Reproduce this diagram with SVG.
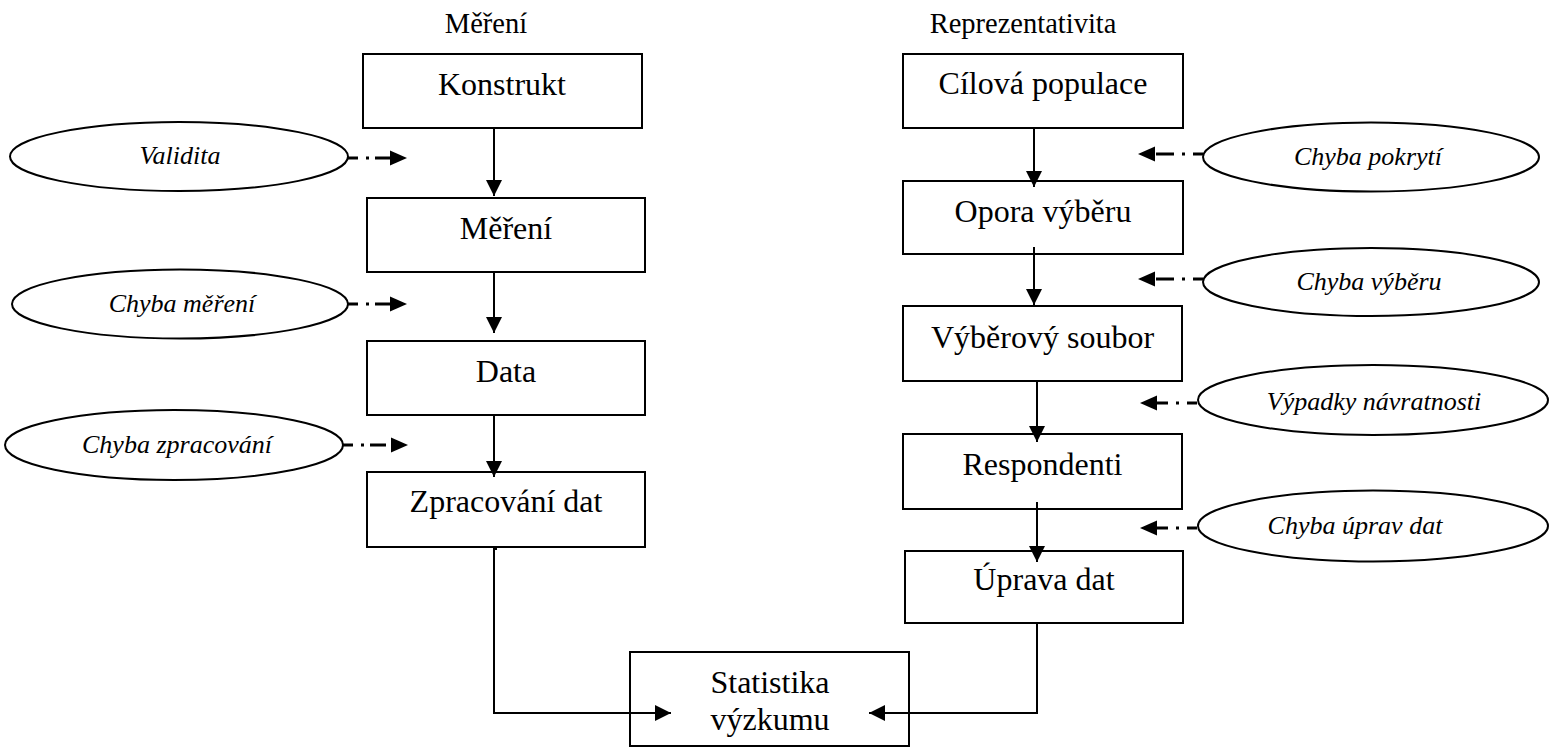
<svg xmlns="http://www.w3.org/2000/svg" width="1550" height="749" viewBox="0 0 1550 749">
<style>
.box{fill:#fff;stroke:#000;stroke-width:2}
.ell{fill:#fff;stroke:#000;stroke-width:2}
.t{font-family:"Liberation Serif","Times New Roman",serif;font-size:32px;text-anchor:middle;fill:#000}
.h{font-family:"Liberation Serif","Times New Roman",serif;font-size:28.5px;text-anchor:middle;fill:#000}
.e{font-family:"Liberation Serif","Times New Roman",serif;font-size:26px;font-style:italic;text-anchor:middle;fill:#000}
.c{fill:none;stroke:#000;stroke-width:2}
.dl{fill:none;stroke:#000;stroke-width:3;stroke-dasharray:10 8 3 6 16 60}
.dr{fill:none;stroke:#000;stroke-width:3;stroke-dasharray:10 8 3 8 18 60}
</style>
<defs>
<marker id="a" markerUnits="userSpaceOnUse" markerWidth="16" markerHeight="17" refX="16" refY="8.5" orient="auto" viewBox="0 0 16 17">
<path d="M0,0.5 L16,8.5 L0,16.5 z" fill="#000"/>
</marker>
<marker id="ad" markerUnits="userSpaceOnUse" markerWidth="17" markerHeight="16" refX="17" refY="8" orient="auto" viewBox="0 0 17 16">
<path d="M0,0.5 L17,8 L0,15.5 z" fill="#000"/>
</marker>
</defs>
<g id="headers">
<text class="h" x="486" y="33">Měření</text>
<text class="h" x="1023" y="33">Reprezentativita</text>
</g>
<g id="konstrukt"><rect class="box" x="363" y="54" width="279" height="74"/><text class="t" x="502" y="95">Konstrukt</text></g>
<g id="mereni"><rect class="box" x="367" y="198" width="278" height="74"/><text class="t" x="506" y="239">Měření</text></g>
<g id="data"><rect class="box" x="367" y="341" width="278" height="74"/><text class="t" x="506" y="382">Data</text></g>
<g id="zpracovani"><rect class="box" x="367" y="472" width="278" height="75"/><text class="t" x="506" y="512">Zpracování dat</text></g>
<g id="cilova"><rect class="box" x="903" y="54" width="280" height="74"/><text class="t" x="1043" y="94">Cílová populace</text></g>
<g id="opora"><rect class="box" x="903" y="181" width="280" height="73"/><text class="t" x="1043" y="222">Opora výběru</text></g>
<g id="vyberovy"><rect class="box" x="903" y="306" width="279" height="75"/><text class="t" x="1042.5" y="348">Výběrový soubor</text></g>
<g id="respondenti"><rect class="box" x="903" y="434" width="279" height="75"/><text class="t" x="1042.5" y="475">Respondenti</text></g>
<g id="uprava"><rect class="box" x="905" y="551" width="278" height="72"/><text class="t" x="1044" y="590">Úprava dat</text></g>
<g id="statistika"><rect class="box" x="630" y="652" width="279" height="94"/><text class="t" x="770" y="693">Statistika</text><text class="t" x="770" y="730">výzkumu</text></g>
<g id="validita"><ellipse class="ell" cx="179" cy="156.5" rx="169" ry="34.5"/><text class="e" x="180" y="164">Validita</text></g>
<g id="chyba-mereni"><ellipse class="ell" cx="180" cy="304" rx="168" ry="34.5"/><text class="e" x="182" y="312">Chyba měření</text></g>
<g id="chyba-zpracovani"><ellipse class="ell" cx="174" cy="445" rx="169" ry="35"/><text class="e" x="177" y="453">Chyba zpracování</text></g>
<g id="chyba-pokryti"><ellipse class="ell" cx="1371" cy="157" rx="168" ry="34.5"/><text class="e" x="1368" y="165">Chyba pokrytí</text></g>
<g id="chyba-vyberu"><ellipse class="ell" cx="1371" cy="282" rx="168" ry="34"/><text class="e" x="1369" y="290">Chyba výběru</text></g>
<g id="vypadky"><ellipse class="ell" cx="1373" cy="400" rx="175" ry="35"/><text class="e" x="1374" y="410">Výpadky návratnosti</text></g>
<g id="chyba-uprav"><ellipse class="ell" cx="1373" cy="526" rx="175" ry="35.5"/><text class="e" x="1355" y="534">Chyba úprav dat</text></g>
<g id="connectors">
<line class="c" x1="494" y1="128" x2="494" y2="196" marker-end="url(#a)"/>
<line class="c" x1="494" y1="272" x2="494" y2="333" marker-end="url(#a)"/>
<line class="c" x1="494" y1="415" x2="494" y2="477" marker-end="url(#a)"/>
<line class="c" x1="1034" y1="128" x2="1034" y2="187" marker-end="url(#a)"/>
<line class="c" x1="1034" y1="247" x2="1034" y2="305" marker-end="url(#a)"/>
<line class="c" x1="1037" y1="381" x2="1037" y2="442" marker-end="url(#a)"/>
<line class="c" x1="1037" y1="502" x2="1037" y2="562" marker-end="url(#a)"/>
<path class="c" d="M497,549 H494 V713 H671" marker-end="url(#a)"/>
<path class="c" d="M1068,623 H1037 V713 H869" marker-end="url(#a)"/>
<line class="dl" x1="348" y1="158" x2="407" y2="158" marker-end="url(#ad)"/>
<line class="dl" x1="348" y1="304" x2="407" y2="304" marker-end="url(#ad)"/>
<line class="dl" x1="343" y1="445" x2="408" y2="445" marker-end="url(#ad)"/>
<line class="dr" x1="1203" y1="154" x2="1138" y2="154" marker-end="url(#ad)"/>
<line class="dr" x1="1203" y1="279" x2="1138" y2="279" marker-end="url(#ad)"/>
<line class="dr" x1="1197" y1="403" x2="1140" y2="403" marker-end="url(#ad)"/>
<line class="dr" x1="1197" y1="528" x2="1140" y2="528" marker-end="url(#ad)"/>
</g>
</svg>
